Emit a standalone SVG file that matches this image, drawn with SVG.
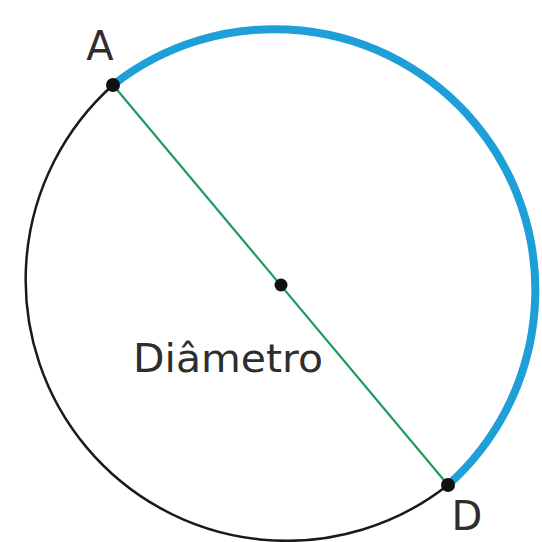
<svg xmlns="http://www.w3.org/2000/svg" width="542" height="542" viewBox="0 0 542 542">
<style>
.lbl{font-family:"DejaVu Sans","Liberation Sans",sans-serif;fill:#2e2e2e}
.dot{fill:#111}
</style>
<rect width="542" height="542" fill="#fff"/>
<g id="connectors">
<path id="arc-black" d="M448,485 A261,261 0 0 1 113,85" fill="none" stroke="#1a1a1a" stroke-width="2.5"/>
<path id="arc-blue" d="M113,85 A261,261 0 0 1 448,485" fill="none" stroke="#1e9fd8" stroke-width="8"/>
<line id="diameter" x1="113" y1="85" x2="448" y2="485" stroke="#1f9a5c" stroke-width="2.2"/>
</g>
<g id="A"><circle class="dot" cx="113" cy="85" r="7"/><text class="lbl" x="100" y="60" font-size="40" text-anchor="middle">A</text></g>
<g id="D"><circle class="dot" cx="448" cy="485" r="7"/><text class="lbl" x="467" y="530" font-size="40" text-anchor="middle">D</text></g>
<g id="center"><circle class="dot" cx="281" cy="285" r="6.5"/></g>
<g id="label"><text class="lbl" x="133" y="372" font-size="39" textLength="190" lengthAdjust="spacingAndGlyphs">Diâmetro</text></g>
</svg>
